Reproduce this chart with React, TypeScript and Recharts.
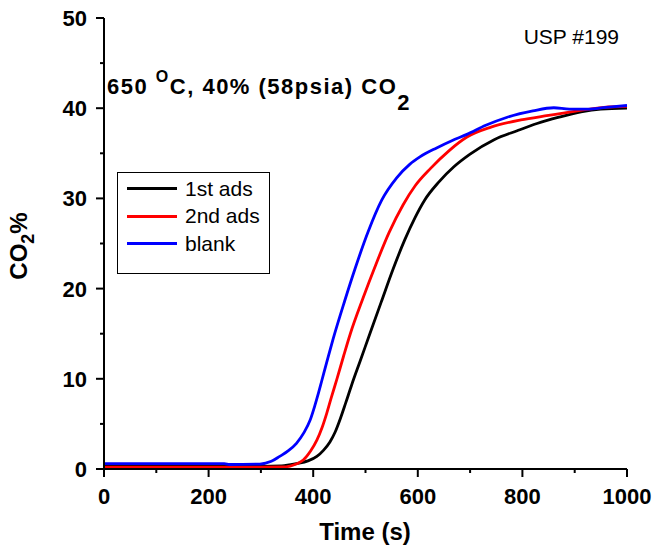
import React from "react"
import { LineChart, Line, XAxis, YAxis, Legend, Customized } from "recharts"

// time (s) / CO2 %
const firstAdsTime = [0, 100, 200, 300, 340, 368, 390, 407, 420, 432, 442, 452, 462, 474, 490, 509, 530, 553, 575, 595, 613, 640, 669, 700, 746, 790, 828, 870, 912, 950, 1000]
const firstAdsCo2 = [0.3, 0.3, 0.3, 0.3, 0.35, 0.6, 0.9, 1.4, 2.1, 3.0, 4.1, 5.6, 7.3, 9.4, 12.0, 15.1, 18.5, 22.2, 25.4, 27.9, 29.8, 31.8, 33.5, 34.9, 36.5, 37.5, 38.3, 39.0, 39.6, 39.9, 40.0]

const secondAdsTime = [0, 100, 200, 300, 340, 356, 370, 381, 395, 407, 417, 426, 435, 445, 458, 471, 495, 518, 545, 572, 595, 624, 660, 694, 740, 797, 850, 893, 956, 1000]
const secondAdsCo2 = [0.2, 0.2, 0.2, 0.2, 0.22, 0.33, 0.6, 1.0, 2.0, 3.2, 4.6, 6.2, 8.0, 9.9, 12.5, 15.0, 18.9, 22.4, 26.2, 29.3, 31.4, 33.3, 35.3, 36.8, 37.9, 38.7, 39.2, 39.6, 40.1, 40.2]

const blankTime = [0, 100, 200, 230, 240, 298, 320, 336, 352, 368, 382, 394, 403, 410, 416, 428, 438, 460, 480, 505, 531, 560, 585, 604, 636, 665, 694, 730, 771, 820, 860, 890, 924, 960, 1000]
const blankCo2 = [0.6, 0.6, 0.6, 0.6, 0.5, 0.55, 0.85, 1.4, 2.0, 2.85, 4.0, 5.4, 7.0, 8.4, 9.7, 12.3, 14.4, 18.6, 22.2, 26.3, 29.8, 32.3, 33.8, 34.6, 35.6, 36.4, 37.1, 38.1, 39.0, 39.7, 40.05, 39.9, 39.9, 40.1, 40.3]

const xTicks = [0, 100, 200, 300, 400, 500, 600, 700, 800, 900, 1000]
const yTicks = [0, 5, 10, 15, 20, 25, 30, 35, 40, 45, 50]

const toPoints = (t: number[], v: number[]) => t.map((x, i) => ({ x, y: v[i] }))

const firstAds = toPoints(firstAdsTime, firstAdsCo2)
const secondAds = toPoints(secondAdsTime, secondAdsCo2)
const blank = toPoints(blankTime, blankCo2)

const FONT = '"Liberation Sans", Arial, sans-serif'

const BottomTick = (p: any) => {
  const v = p.payload.value
  const major = v % 200 === 0
  return (
    <g>
      <line x1={p.x} x2={p.x} y1={p.y} y2={p.y + (major ? 8 : 4)} stroke="#000" strokeWidth={2} />
      {major && (
        <text x={p.x} y={p.y + 35} textAnchor="middle" fontSize={22} fontWeight="bold" fontFamily={FONT} fill="#000">
          {v}
        </text>
      )}
    </g>
  )
}

const LeftTick = (p: any) => {
  const v = p.payload.value
  const major = v % 10 === 0
  return (
    <g>
      <line x1={p.x} x2={p.x - (major ? 8 : 4)} y1={p.y} y2={p.y} stroke="#000" strokeWidth={2} />
      {major && (
        <text x={p.x - 17} y={p.y + 8} textAnchor="end" fontSize={22} fontWeight="bold" fontFamily={FONT} fill="#000">
          {v}
        </text>
      )}
    </g>
  )
}

const TopTick = (p: any) => {
  const major = p.payload.value % 200 === 0
  return <line x1={p.x} x2={p.x} y1={p.y} y2={p.y + (major ? 6 : 3)} stroke="#000" strokeWidth={1.5} />
}

const RightTick = (p: any) => {
  const major = p.payload.value % 10 === 0
  return <line x1={p.x} x2={p.x - (major ? 6 : 3)} y1={p.y} y2={p.y} stroke="#000" strokeWidth={1.5} />
}

const renderLegend = (props: any) => {
  const items = (props.payload || []).filter((e: any) => e.type !== "none")
  return (
    <div style={{ border: "1.5px solid #000", width: 153, height: 102, boxSizing: "border-box", background: "#fff", paddingTop: 2 }}>
      {items.map((e: any) => (
        <div key={e.value} style={{ display: "flex", alignItems: "center", height: 27.5, fontFamily: FONT, fontSize: 21, color: "#000" }}>
          <div style={{ width: 50, height: 3, background: e.color, marginLeft: 9, marginRight: 8 }} />
          <span>{e.value}</span>
        </div>
      ))}
    </div>
  )
}

const Annotations = () => (
  <g fontFamily={FONT} fill="#000">
    <text x={27} y={246} transform="rotate(-90, 27, 246)" textAnchor="middle" fontSize={24} fontWeight="bold">
      CO<tspan fontSize={18} dy={7}>2</tspan><tspan dy={-7}>%</tspan>
    </text>
    <text x={107} y={94} fontSize={22} fontWeight="bold" letterSpacing={1.5}>
      650 <tspan fontSize={16} dy={-12}>O</tspan>
      <tspan dy={12}>C, 40% (58psia) CO</tspan>
      <tspan dy={16}>2</tspan>
    </text>
    <text x={619} y={44} textAnchor="end" fontSize={21}>
      USP #199
    </text>
    <text x={365} y={540} textAnchor="middle" fontSize={24} fontWeight="bold">
      Time (s)
    </text>
  </g>
)

export default function App() {
  return (
    <div style={{ position: "absolute", left: 0, top: 0, width: 654, height: 556, background: "#fff" }}>
      <LineChart width={654} height={556} margin={{ top: 18, right: 27, bottom: 0, left: 44 }}>
        <XAxis
          xAxisId="b"
          type="number"
          dataKey="x"
          domain={[0, 1000]}
          ticks={xTicks}
          interval={0}
          height={87}
          tickSize={0}
          tickMargin={0}
          tickLine={false}
          axisLine={{ stroke: "#000", strokeWidth: 2 }}
          tick={<BottomTick />}
          allowDataOverflow
        />
        <XAxis
          xAxisId="t"
          orientation="top"
          type="number"
          dataKey="x"
          domain={[0, 1000]}
          ticks={xTicks}
          interval={0}
          height={0}
          tickSize={0}
          tickMargin={0}
          tickLine={false}
          axisLine={{ stroke: "#000", strokeWidth: 2 }}
          tick={<TopTick />}
          allowDataOverflow
        />
        <YAxis
          yAxisId="l"
          type="number"
          domain={[0, 50]}
          ticks={yTicks}
          interval={0}
          width={60}
          tickSize={0}
          tickMargin={0}
          tickLine={false}
          axisLine={{ stroke: "#000", strokeWidth: 2 }}
          tick={<LeftTick />}
          allowDataOverflow
        />
        <YAxis
          yAxisId="r"
          orientation="right"
          type="number"
          domain={[0, 50]}
          ticks={yTicks}
          interval={0}
          width={0}
          tickSize={0}
          tickMargin={0}
          tickLine={false}
          axisLine={{ stroke: "#000", strokeWidth: 2 }}
          tick={<RightTick />}
          allowDataOverflow
        />
        <Legend
          layout="vertical"
          align="center"
          verticalAlign="middle"
          content={renderLegend}
          wrapperStyle={{ left: 117, top: 172, width: 153, height: 102 }}
        />
        {/* keeps the mirrored top/right axes tied to data */}
        <Line xAxisId="t" yAxisId="r" data={firstAds} dataKey="y" stroke="none" dot={false} activeDot={false} legendType="none" isAnimationActive={false} />
        <Line xAxisId="b" yAxisId="l" data={firstAds} dataKey="y" name="1st ads" type="monotone" stroke="#000000" strokeWidth={2.8} dot={false} isAnimationActive={false} />
        <Line xAxisId="b" yAxisId="l" data={secondAds} dataKey="y" name="2nd ads" type="monotone" stroke="#ff0000" strokeWidth={2.8} dot={false} isAnimationActive={false} />
        <Line xAxisId="b" yAxisId="l" data={blank} dataKey="y" name="blank" type="monotone" stroke="#0000ff" strokeWidth={2.8} dot={false} isAnimationActive={false} />
        <Customized component={Annotations} />
      </LineChart>
    </div>
  )
}
